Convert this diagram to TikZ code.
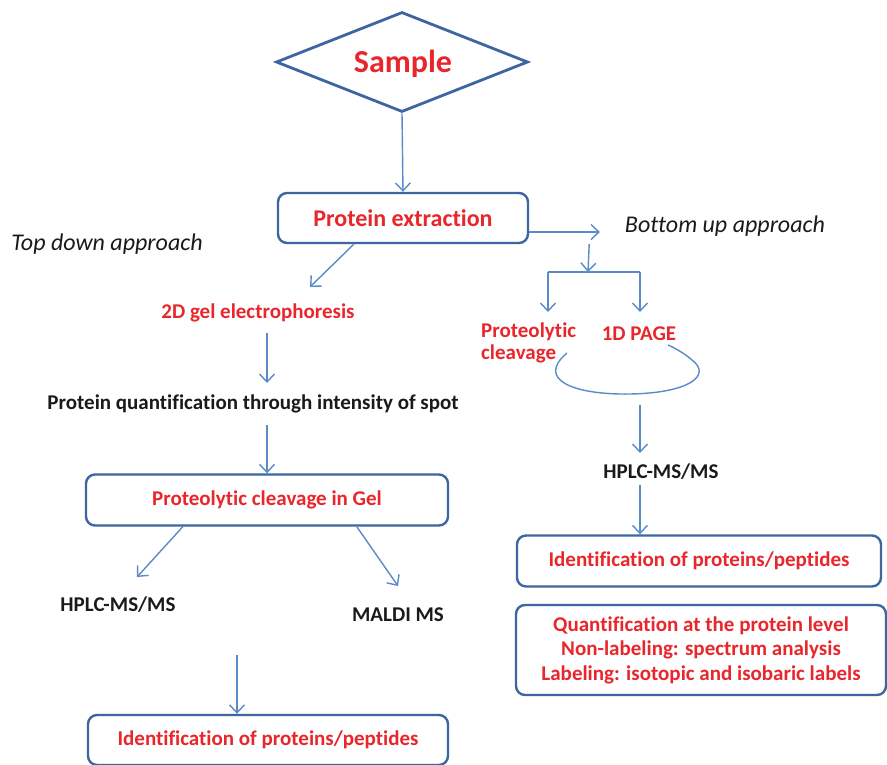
\documentclass[tikz,border=0pt]{standalone}
\usepackage{fontspec}
\setmainfont[Ligatures=NoCommon]{Carlito}
\usetikzlibrary{shapes.geometric,arrows.meta,calc}
\definecolor{boxblue}{HTML}{3D65A0}
\definecolor{arrblue}{HTML}{5A8AC8}
\definecolor{txtred}{HTML}{E8262B}
\definecolor{txtblack}{HTML}{1A1A1A}
\newcommand\fs[2]{\fontsize{#1}{#2}\selectfont}
\tikzset{
  box/.style={draw=boxblue, line width=2.4pt, rounded corners=9pt, fill=white},
  redtxt/.style={text=txtred, font=\bfseries\fs{21}{22}, inner sep=1pt},
  blktxt/.style={text=txtblack, font=\bfseries\fs{21}{22}, inner sep=1pt},
  ittxt/.style={text=txtblack, font=\itshape\fs{24}{24}, inner sep=1pt},
  arr/.style={draw=arrblue, line width=1.4pt, -{Straight Barb[length=8pt,width=15pt,line width=1.4pt]}},
  ln/.style={draw=arrblue, line width=1.4pt}
}
\begin{document}
\begin{tikzpicture}[x=1pt,y=-1pt]
\useasboundingbox (0,0) rectangle (887,764);
\clip (0,0) rectangle (887,764);
% Diamond
\node[diamond, shape aspect=2.5, draw=boxblue, line width=2.8pt, minimum width=252pt, minimum height=100pt, inner sep=0pt] (s) at (402,62) {};
\node[text=txtred, font=\bfseries\fs{32}{32}, inner sep=0pt] (st) at (403,64) {Sample};
% Protein extraction
\node[box, minimum width=250pt, minimum height=50pt, redtxt, font=\bfseries\fs{24}{24}] (pe) at (403,218) {Protein extraction};
\node[ittxt] (td) at (107,244) {Top down approach};
\node[ittxt] (bu) at (725,226) {Bottom up approach};
% left branch
\node[redtxt] (gel) at (258,313) {2D gel electrophoresis};
\node[blktxt] (pq) at (253,404) {Protein quantification through intensity of spot};
\node[box, minimum width=362pt, minimum height=51pt, redtxt] (pcg) at (267,500) {Proteolytic cleavage in Gel};
\node[blktxt] (hl) at (118,605) {HPLC-MS/MS};
\node[blktxt] (md) at (398,615) {MALDI MS};
\node[box, minimum width=360pt, minimum height=50pt, redtxt] (idl) at (268,740) {Identification of proteins/peptides};
% right branch
\node[redtxt, align=left, anchor=west, font=\bfseries\fs{21}{22}] (pc) at (480,343) {Proteolytic\\cleavage};
\node[redtxt] (page) at (639,334) {1D PAGE};
\node[blktxt] (hr) at (661,472) {HPLC-MS/MS};
\node[box, minimum width=364pt, minimum height=51pt, redtxt] (idr) at (699,561) {Identification of proteins/peptides};
\node[box, minimum width=370pt, minimum height=90pt, redtxt, align=center, font=\bfseries\fs{21}{24.5}] (qb) at (701,650)
  {Quantification at the protein level\\Non-labeling: spectrum analysis\\Labeling: isotopic and isobaric labels};
% coordinates
\coordinate (a1) at (310,287);
\coordinate (brt) at (600,232);
\coordinate (jn) at (588,272);
\coordinate (jl) at (548,272);
\coordinate (jr) at (640,272);
\coordinate (jlb) at (548,312);
\coordinate (jrb) at (640,312);
\coordinate (hla) at (137,577);
\coordinate (mda) at (398,586);
\coordinate (el1) at (567,353);
\coordinate (el2) at (668,345);
% arrows
\draw[arr] (s.south) -- (pe.north);
\draw[arr] ($(pe.south west)+(77,0)$) -- (a1);
\draw[arr] ($(pe.east)+(0,14)$) -- (brt);
\draw[arr] ($(pe.south east)+(60,0)$) -- (jn);
\draw[ln] (jl) -- (jr);
\draw[arr] (jl) -- (jlb);
\draw[arr] (jr) -- (jrb);
\draw[arr] (267,333) -- (267,383);
\draw[arr] (267,425) -- (pcg.north -| 267,0);
\draw[arr] ($(pcg.south west)+(98,0)$) -- (hla);
\draw[arr] ($(pcg.south west)+(272,0)$) -- (mda);
\draw[arr] (237,655) -- (idl.north -| 237,0);
\draw[ln] (el1) .. controls (535,380) and (575,395) .. (630,394)
  .. controls (690,393) and (712,375) .. (692,360)
  .. controls (685,354) and (677,349) .. (el2);
\draw[arr] (640,405) -- (640,453);
\draw[arr] (640,485) -- (idr.north -| 640,0);
\end{tikzpicture}
\end{document}
